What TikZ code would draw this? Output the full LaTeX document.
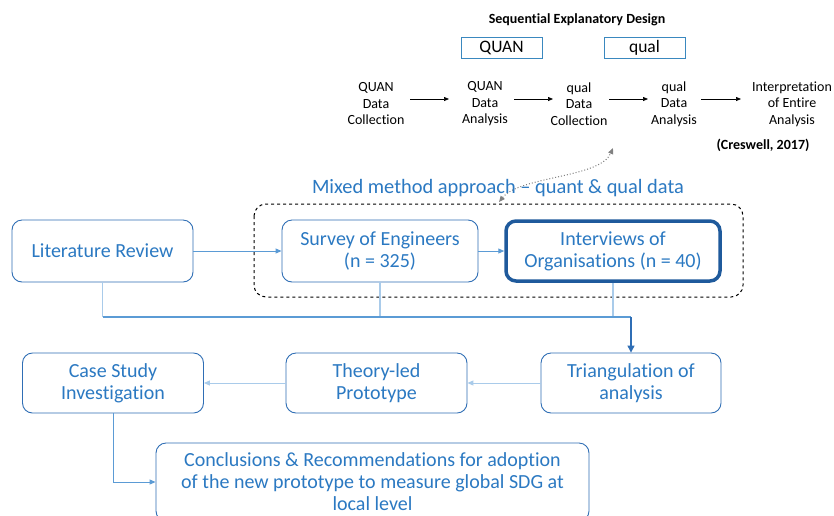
\documentclass[tikz,border=0pt]{standalone}
\usepackage{fontspec}
\setmainfont{Carlito}[Ligatures={NoCommon}]
\usetikzlibrary{arrows.meta}
\definecolor{txtblue}{HTML}{2B79C2}
\definecolor{boxblue}{HTML}{2F6EB5}
\definecolor{deepblue}{HTML}{1F5A9C}
\definecolor{tealbox}{HTML}{3A88BF}
\definecolor{linkmid}{HTML}{5B9BD5}
\definecolor{linklight}{HTML}{A9CBEA}
\tikzset{
  procbox/.style={draw=boxblue, line width=0.9pt, rounded corners=10pt, text=txtblue,
    align=center, inner sep=0pt, font=\fontsize{20}{22}\selectfont},
  keybox/.style={draw=tealbox, line width=1pt, inner sep=0pt, minimum width=81pt,
    minimum height=21pt, font=\fontsize{17.5}{20}\selectfont},
  flowlabel/.style={align=center, inner sep=0pt, font=\fontsize{14}{16.5}\selectfont},
  flowarrow/.style={-{Triangle[length=5pt,width=4pt]}, line width=0.7pt},
  link/.style={linkmid, line width=1pt, -{Triangle[length=6pt,width=5pt]}},
  drop/.style={linklight, line width=1.2pt},
}
\begin{document}
\begin{tikzpicture}[x=1pt,y=-1pt]
\clip (0,0) rectangle (834,515);
\fill[white] (0,0) rectangle (834,515);

% Sequential explanatory design header
\node[font=\fontsize{14}{16}\selectfont\bfseries] (title) at (577,20) {Sequential Explanatory Design};
\node[keybox] (quan) at (501.5,47.5) {QUAN};
\node[keybox] (qual) at (644.5,47.5) {qual};

\node[flowlabel] (f1) at (376,104) {QUAN\\Data\\Collection};
\node[flowlabel] (f2) at (485,104) {QUAN\\Data\\Analysis};
\node[flowlabel] (f3) at (579,104) {qual\\Data\\Collection};
\node[flowlabel] (f4) at (674,104) {qual\\Data\\Analysis};
\node[flowlabel] (f5) at (792,104) {Interpretation\\of Entire\\Analysis};

\draw[flowarrow, shorten <=34pt, shorten >=36pt] ([yshift=5pt]f1.center) -- ([yshift=5pt]f2.center);
\draw[flowarrow, shorten <=29pt, shorten >=26pt] ([yshift=5pt]f2.center) -- ([yshift=5pt]f3.center);
\draw[flowarrow, shorten <=30pt, shorten >=26pt] ([yshift=5pt]f3.center) -- ([yshift=5pt]f4.center);
\draw[flowarrow, shorten <=27pt, shorten >=51pt] ([yshift=5pt]f4.center) -- ([yshift=5pt]f5.center);

\node[font=\fontsize{14}{16}\selectfont\bfseries] (cite) at (763,145) {(Creswell, 2017)};

% link between the design and the mixed method block
\coordinate (dlow) at (499,202);
\coordinate (dup) at (613,148);
\draw[gray, dotted, line width=1pt, {Triangle[length=6pt,width=5pt]}-{Triangle[length=6pt,width=5pt]}]
  (dlow) .. controls (520,176) and (600,178) .. (dup);

% mixed method block
\node[text=txtblue, font=\fontsize{20.4}{22}\selectfont, inner sep=0pt] (mixed) at (498,188) {Mixed method approach -- quant \& qual data};
\draw[dashed, line width=1pt, rounded corners=12pt] (254,204) rectangle (743,297);

\node[procbox, minimum width=181pt, minimum height=62pt] (lit) at (102.5,251) {Literature Review};
\node[procbox, minimum width=196pt, minimum height=62pt] (survey) at (380,251) {Survey of Engineers\\(n = 325)};
\node[procbox, draw=deepblue, line width=3.5pt, minimum width=214pt, minimum height=60pt] (interv) at (613,251) {Interviews of\\Organisations (n = 40)};

\draw[link] (lit) -- (survey);
\draw[link] (survey) -- (interv.west);

% lower row
\node[procbox, minimum width=181pt, minimum height=60pt] (case) at (113,383) {Case Study\\Investigation};
\node[procbox, minimum width=181pt, minimum height=60pt] (theory) at (376.5,383) {Theory-led\\Prototype};
\node[procbox, minimum width=180pt, minimum height=60pt] (tri) at (631,383) {Triangulation of\\analysis};
\node[procbox, minimum width=433pt, minimum height=78pt] (concl) at (372.5,482) {Conclusions \& Recommendations for adoption\\of the new prototype to measure global SDG at\\local level};

% gathering line into the triangulation step
\coordinate (hub) at (631,317);
\draw[drop] (lit.south) -- (lit.south |- hub);
\draw[drop] (survey.south) -- (survey.south |- hub);
\draw[drop] (interv.south) -- (interv.south |- hub);
\draw[linkmid, line width=1.2pt] (lit.south |- hub) -- (hub);
\draw[boxblue, line width=1.2pt, -{Triangle[length=7pt,width=7pt]}] (hub) -- (tri.north);

\draw[linklight, line width=1pt, -{Triangle[length=6pt,width=5pt]}] (tri) -- (theory);
\draw[linklight, line width=1pt, -{Triangle[length=6pt,width=5pt]}] (theory) -- (case);
\draw[linkmid, line width=1pt, -{Triangle[length=6pt,width=5pt]}] (case.south) |- (concl.west);
\end{tikzpicture}
\end{document}
